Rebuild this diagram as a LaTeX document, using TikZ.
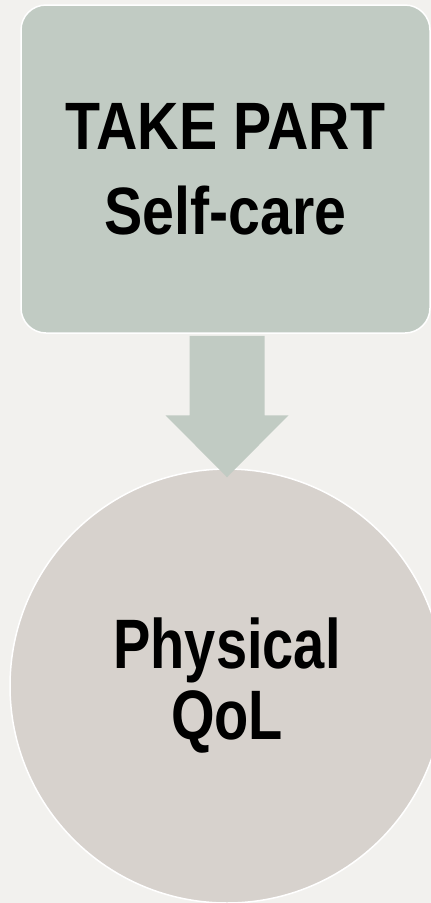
\documentclass[tikz,border=0pt]{standalone}
\usepackage{fontspec}
\usepackage{xcolor}
\usetikzlibrary{calc}
\newfontfamily\qolfont[FakeStretch=0.8]{Liberation Sans}
\newfontfamily\carefont[FakeStretch=0.855]{Liberation Sans}
\definecolor{QLBack}{HTML}{F2F1EE}
\definecolor{QLSage}{HTML}{C1CBC3}
\definecolor{QLStone}{HTML}{D7D2CD}

\begin{document}
\begin{tikzpicture}[x=1pt,y=-1pt]
\tikzset{
  qolbox/.style={rectangle,rounded corners=25pt,fill=QLSage,draw=white,line width=1.5pt,
    minimum width=409pt,minimum height=328pt,inner sep=0pt,align=center,
    font=\carefont\bfseries\fontsize{67}{85}\selectfont},
  qolcircle/.style={circle,fill=QLStone,draw=white,line width=1.5pt,minimum size=434pt,
    inner sep=0pt,align=center,font=\qolfont\bfseries\fontsize{70}{71}\selectfont}
}
\fill[QLBack] (0,0) rectangle (431,903);
\path[use as bounding box] (0,0) rectangle (431,903);
\node[qolbox] (selfcare) at (225.5,169) {TAKE PART\\Self-care};
\node[qolcircle] (physical) at (227,686) {Physical\\QoL};
% block arrow between the two
\fill[QLSage] ($(selfcare.south -| physical.north)+(-37.5,2)$)
  -- ($(selfcare.south -| physical.north)+(37.5,2)$)
  -- ($(physical.north)+(37.5,-53)$) -- ($(physical.north)+(61.5,-53)$)
  -- ($(physical.north)+(0,9)$)
  -- ($(physical.north)+(-61.5,-53)$) -- ($(physical.north)+(-37.5,-53)$) -- cycle;
\end{tikzpicture}
\end{document}
